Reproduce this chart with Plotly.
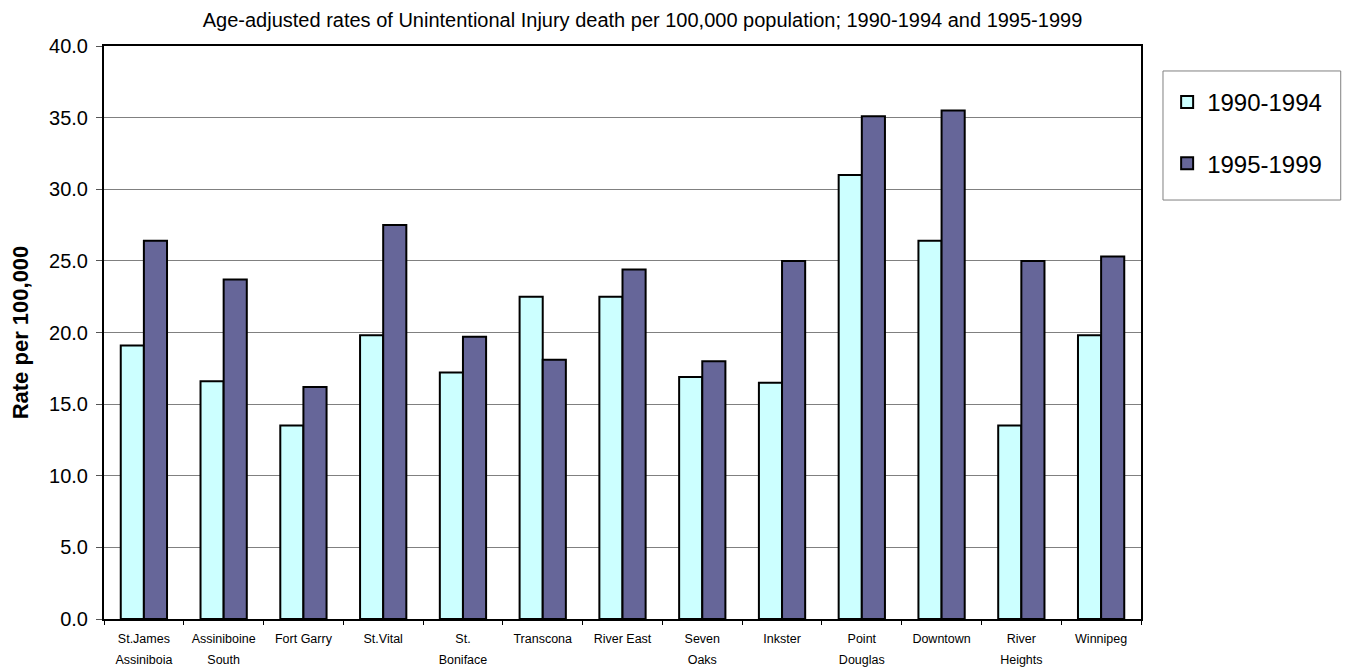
import plotly.graph_objects as go

# ---- data ----
categories = ["St. James Assiniboia", "Assiniboine South", "Fort Garry", "St. Vital",
              "St. Boniface", "Transcona", "River East", "Seven Oaks", "Inkster",
              "Point Douglas", "Downtown", "River Heights", "Winnipeg"]
tick_lines = [["St.James", "Assiniboia"], ["Assiniboine", "South"], ["Fort Garry"], ["St.Vital"],
              ["St.", "Boniface"], ["Transcona"], ["River East"], ["Seven", "Oaks"], ["Inkster"],
              ["Point", "Douglas"], ["Downtown"], ["River", "Heights"], ["Winnipeg"]]
rates_1990_1994 = [19.1, 16.6, 13.5, 19.8, 17.2, 22.5, 22.5, 16.9, 16.5, 31.0, 26.4, 13.5, 19.8]
rates_1995_1999 = [26.4, 23.7, 16.2, 27.5, 19.7, 18.1, 24.4, 18.0, 25.0, 35.1, 35.5, 25.0, 25.3]
series_names = ["1990-1994", "1995-1999"]
y_ticks = [0, 5, 10, 15, 20, 25, 30, 35, 40]

FONT = "Arial, Liberation Sans, sans-serif"
tick_text = ["<br>".join(f"<span style='font-size:12.5px'>{s}</span>" for s in lines)
             for lines in tick_lines]

fig = go.Figure()
fig.add_trace(go.Bar(
    x=categories, y=rates_1990_1994, name=series_names[0], legendgroup="a",
    marker=dict(color="#CCFFFF", line=dict(color="#000000", width=2)),
))
fig.add_trace(go.Bar(
    x=categories, y=rates_1995_1999, name=series_names[1], legendgroup="b",
    marker=dict(color="#666699", line=dict(color="#000000", width=2)),
))

# page body has an 8px margin: shift margins so the plot area sits where the reference has it
fig.update_layout(
    width=1351, height=672,
    margin=dict(l=96, r=218, t=38, b=61, autoexpand=False),
    paper_bgcolor="white", plot_bgcolor="white",
    barmode="group", bargap=0.42, bargroupgap=0,
    font=dict(family=FONT, color="#000000"),
    title=dict(
        text="Age-adjusted rates of Unintentional Injury death per 100,000 population; 1990-1994 and 1995-1999",
        font=dict(size=20, family=FONT, color="#000000"),
        x=634.5 / 1351, xref="container", xanchor="center",
        y=1 - 12 / 672, yref="container", yanchor="middle",
    ),
    legend=dict(
        x=1.0212 + 0.004, xanchor="left", y=0.9407, yanchor="top",
        borderwidth=0, bgcolor="rgba(0,0,0,0)",
        font=dict(size=24, family=FONT, color="#000000"),
        traceorder="grouped", tracegroupgap=27,
    ),
    shapes=[dict(type="rect", xref="paper", yref="paper",
                 x0=1.0212, x1=1.1926, y0=0.7312, y1=0.9564,
                 line=dict(color="#808080", width=1), fillcolor="rgba(0,0,0,0)", layer="below")],
    showlegend=True,
)

fig.update_xaxes(
    tickmode="array", tickvals=categories, ticktext=tick_text,
    tickfont=dict(size=16, family=FONT, color="#000000"),
    showline=True, linecolor="#000000", linewidth=2, mirror=True,
    ticks="outside", tickson="boundaries", ticklen=4, tickcolor="#000000",
    showgrid=False, ticklabelstandoff=3,
)
fig.update_yaxes(
    range=[0, 40], tickmode="array", tickvals=y_ticks,
    ticktext=[f"{v:.1f}" for v in y_ticks],
    tickfont=dict(size=20, family=FONT, color="#000000"),
    showline=True, linecolor="#000000", linewidth=2, mirror=True,
    ticks="outside", ticklen=6, tickcolor="#555555", ticklabelstandoff=4,
    showgrid=True, gridcolor="#808080", gridwidth=1, zeroline=False,
    title=dict(text="<b>Rate per 100,000</b>", font=dict(size=22, family=FONT, color="#000000"), standoff=16),
)

fig.write_html("out.html")
